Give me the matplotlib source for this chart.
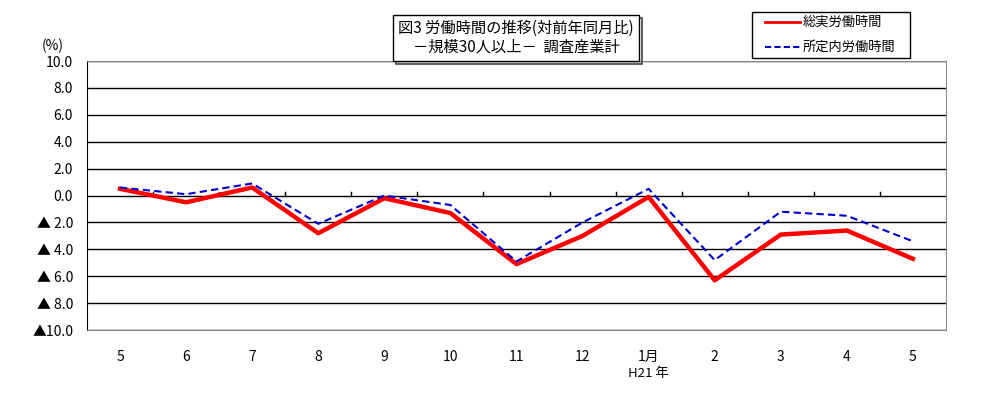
import matplotlib
matplotlib.use("Agg")
import matplotlib.pyplot as plt
from matplotlib.patches import Rectangle
from matplotlib.lines import Line2D

plt.rcParams['font.family'] = ['Noto Sans CJK JP', 'DejaVu Sans']

months = ["5", "6", "7", "8", "9", "10", "11", "12", "1月", "2", "3", "4", "5"]
total_hours = [0.5, -0.5, 0.6, -2.8, -0.2, -1.3, -5.1, -3.0, -0.1, -6.3, -2.9, -2.6, -4.7]
scheduled_hours = [0.6, 0.1, 0.9, -2.1, 0.0, -0.7, -4.9, -2.0, 0.5, -4.8, -1.2, -1.5, -3.4]
y_ticks = [10, 8, 6, 4, 2, 0, -2, -4, -6, -8, -10]
y_labels = ["10.0", "8.0", "6.0", "4.0", "2.0", "0.0", "▲ 2.0", "▲ 4.0", "▲ 6.0", "▲ 8.0", "▲10.0"]

fig = plt.figure(figsize=(10.01, 4.07), dpi=100)
ax = fig.add_axes([0.0869, 0.189, 0.8581, 0.661])

x = list(range(len(months)))
ax.plot(x, total_hours, color="#ff0000", lw=3.2, zorder=3)
ax.plot(x, scheduled_hours, color="#0000cc", lw=1.5, ls=(0, (3.5, 2)), zorder=4)

ax.set_xlim(-0.5, len(months) - 0.5)
ax.set_ylim(-10, 10)
for v in y_ticks:
    ax.axhline(v, color="black", lw=1.0, zorder=1)
# small tick marks on the zero line at category boundaries
for b in range(1, len(months)):
    ax.plot([b - 0.5, b - 0.5], [0, 0.3], color="black", lw=1.0, zorder=2)

ax.set_yticks(y_ticks)
ax.set_yticklabels(y_labels, fontsize=10)
ax.set_xticks(x)
ax.set_xticklabels(months, fontsize=10)
ax.tick_params(axis="both", length=0)
ax.tick_params(axis="y", pad=10)
ax.tick_params(axis="x", pad=14)
for s in ["top", "right", "bottom"]:
    ax.spines[s].set_color("#888888")
ax.spines["left"].set_color("black")

fig.text(53 / 1001, 1 - 46 / 407, "(%)", fontsize=10, ha="center", va="center")
fig.text(648 / 1001, 1 - 374 / 407, "H21 年", fontsize=9.5, ha="center", va="center")

# title box with shadow
fig.patches.append(Rectangle((396 / 1001, 1 - 64 / 407), 246 / 1001, 46 / 407,
                             transform=fig.transFigure, fill=False, ec="#444444", lw=1.2))
fig.patches.append(Rectangle((393 / 1001, 1 - 61 / 407), 246 / 1001, 46 / 407,
                             transform=fig.transFigure, fc="white", ec="black", lw=1.0))
fig.text(516 / 1001, 1 - 28 / 407, "図3 労働時間の推移(対前年同月比)", fontsize=11, ha="center", va="center")
fig.text(516 / 1001, 1 - 47 / 407, "－規模30人以上－  調査産業計", fontsize=11, ha="center", va="center")

# legend box
fig.patches.append(Rectangle((752 / 1001, 1 - 58 / 407), 158 / 1001, 46 / 407,
                             transform=fig.transFigure, fc="white", ec="black", lw=1.0))
fig.lines.append(Line2D([765 / 1001, 800 / 1001], [1 - 22 / 407, 1 - 22 / 407],
                        transform=fig.transFigure, color="#ff0000", lw=2))
fig.lines.append(Line2D([765 / 1001, 800 / 1001], [1 - 47 / 407, 1 - 47 / 407],
                        transform=fig.transFigure, color="#0000cc", lw=1.5, ls=(0, (3, 1.5))))
fig.text(803 / 1001, 1 - 22 / 407, "総実労働時間", fontsize=9.5, ha="left", va="center")
fig.text(803 / 1001, 1 - 47 / 407, "所定内労働時間", fontsize=9.5, ha="left", va="center")

fig.savefig("out.png", dpi=100)
